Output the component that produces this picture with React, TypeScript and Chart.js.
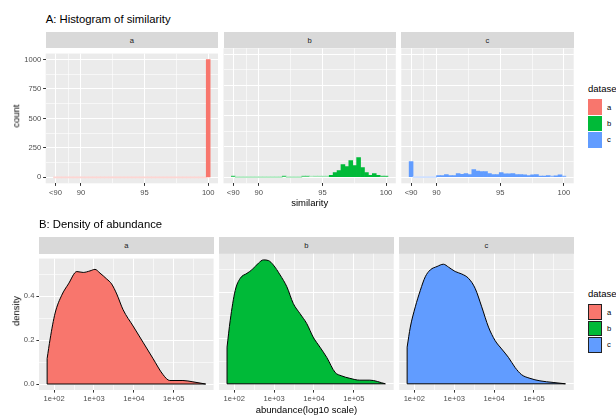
import React, { useEffect, useRef } from 'react';
import { Chart, registerables } from 'chart.js';

Chart.register(...registerables);

const FONT = '"Liberation Sans", Arial, Helvetica, sans-serif';

// ---------- data ----------
const datasetNames = ['a', 'b', 'c'];
const datasetColors = ['#F8766D', '#00BA38', '#619CFF'];

// histogram of similarity: 40 bins spanning 88 ("<90") .. 100
const BIN_MIN = 88;
const BIN_MAX = 100;
const BIN_COUNT = 40;
const histCountsA = [
  0, 0, 0, 0, 0, 0, 0, 0, 0, 0,
  0, 0, 0, 0, 0, 0, 0, 0, 0, 0,
  0, 0, 0, 0, 0, 0, 0, 0, 0, 0,
  0, 0, 0, 0, 0, 0, 0, 0, 0, 1000,
];
const histCountsB = [
  6, 0, 0, 0, 0, 0, 0, 0, 0, 0,
  0, 0, 0, 6, 0, 0, 0, 0, 5, 5,
  2, 3, 3, 3, 3, 14, 38, 54, 103, 87,
  136, 95, 160, 79, 38, 14, 30, 14, 6, 6,
];
const histCountsC = [
  126, 0, 0, 0, 0, 0, 0, 13, 13, 22,
  13, 13, 30, 24, 30, 22, 62, 50, 46, 46,
  30, 22, 22, 38, 27, 27, 30, 22, 22, 19,
  13, 19, 22, 8, 8, 13, 6, 11, 20, 6,
];
const histCounts = [histCountsA, histCountsB, histCountsC];

const histXBreaks = [88, 90, 95, 100];
const histXLabels = ['<90', '90', '95', '100'];
const histXMinor = [89, 92.5, 97.5];
const histYBreaks = [0, 250, 500, 750, 1000];
const histYLabels = ['0', '250', '500', '750', '1000'];
const histYMinor = [125, 375, 625, 875];

// density of abundance (x = log10 abundance)
const densAX = [1.825, 1.9, 2.025, 2.19, 2.36, 2.57, 2.73, 2.9, 3.025, 3.15, 3.32, 3.44, 3.57, 3.73, 3.98, 4.23, 4.48, 4.73, 4.9, 5.23, 5.48, 5.8];
const densAY = [0.116, 0.205, 0.323, 0.404, 0.456, 0.512, 0.508, 0.515, 0.522, 0.505, 0.478, 0.456, 0.41, 0.338, 0.264, 0.19, 0.116, 0.043, 0.016, 0.016, 0.01, 0.0];
const densBX = [1.82, 1.9, 2.025, 2.15, 2.32, 2.44, 2.61, 2.73, 2.86, 2.98, 3.15, 3.32, 3.48, 3.65, 3.82, 3.98, 4.15, 4.32, 4.53, 4.69, 4.9, 5.15, 5.4, 5.79];
const densBY = [0.161, 0.279, 0.41, 0.463, 0.485, 0.5, 0.53, 0.544, 0.541, 0.522, 0.478, 0.426, 0.353, 0.308, 0.264, 0.205, 0.161, 0.116, 0.05, 0.035, 0.024, 0.016, 0.016, 0.0];
const densCX = [1.82, 1.9, 2.025, 2.15, 2.275, 2.4, 2.57, 2.73, 2.86, 3.025, 3.19, 3.36, 3.525, 3.69, 3.86, 4.025, 4.19, 4.36, 4.525, 4.69, 4.9, 5.15, 5.48, 5.79];
const densCY = [0.161, 0.249, 0.338, 0.41, 0.47, 0.5, 0.515, 0.525, 0.512, 0.493, 0.482, 0.463, 0.419, 0.338, 0.249, 0.19, 0.153, 0.116, 0.072, 0.04, 0.024, 0.013, 0.006, 0.0];
const densX = [densAX, densBX, densCX];
const densY = [densAY, densBY, densCY];

const densXBreaks = [2, 3, 4, 5];
const densXLabels = ['1e+02', '1e+03', '1e+04', '1e+05'];
const densXMinor = [2.5, 3.5, 4.5, 5.5];
const densYBreaks = [0, 0.2, 0.4];
const densYLabels = ['0.0', '0.2', '0.4'];
const densYMinor = [0.1, 0.3, 0.5];

// ---------- layout ----------
const TOP_STRIP = 32;
const TOP_Y0 = 48.3;
const TOP_Y1 = 183.3;
const TOP_X = [[45.7, 218.0], [223.5, 395.8], [401.3, 573.7]];
const BOT_STRIP = 236.7;
const BOT_Y0 = 253.7;
const BOT_Y1 = 390;
const BOT_X = [[39, 213.6], [219.1, 393.7], [399.2, 573.8]];

const TICK_FONT = 7.6;
const TITLE_FONT = 9.5;

// ---------- derived ranges ----------
const binWidth = (BIN_MAX - BIN_MIN) / (BIN_COUNT - 1);
const binCenters = Array.from({ length: BIN_COUNT }, (_, k) => BIN_MIN + k * binWidth);
function expand(lo: number, hi: number) {
  const d = (hi - lo) * 0.05;
  return [lo - d, hi + d];
}
const histXRange = expand(BIN_MIN - binWidth / 2, BIN_MAX + binWidth / 2);
const histYRange = expand(0, Math.max(...histCounts.flat()));
const densXRange = expand(Math.min(...densX.flat()), Math.max(...densX.flat()));
const densYRange = expand(0, Math.max(...densY.flat()));

const panelBg = {
  id: 'panelBg',
  beforeDraw(chart: any) {
    const { ctx, chartArea: a } = chart;
    ctx.save();
    ctx.fillStyle = '#EBEBEB';
    ctx.fillRect(a.left, a.top, a.right - a.left, a.bottom - a.top);
    ctx.restore();
  },
};

function makeAxis(
  range: number[], breaks: number[], labels: string[], minor: number[],
  showLabels: boolean, size: number, horizontal: boolean,
) {
  const vals = [...breaks, ...minor].sort((p, q) => p - q);
  const isMinor = (v: number) => minor.some((m) => Math.abs(m - v) < 1e-9);
  const label = (v: number) => {
    const i = breaks.findIndex((b) => Math.abs(b - v) < 1e-9);
    return i >= 0 ? labels[i] : '';
  };
  return {
    type: 'linear',
    min: range[0],
    max: range[1],
    offset: false,
    afterBuildTicks: (s: any) => { s.ticks = vals.map((v) => ({ value: v })); },
    afterFit: (s: any) => { if (horizontal) s.height = size; else s.width = size; },
    border: { display: false },
    grid: {
      offset: false,
      color: (c: any) => (c.tick && isMinor(c.tick.value) ? 'rgba(255,255,255,0.6)' : '#FFFFFF'),
      lineWidth: 1,
      drawTicks: showLabels,
      tickLength: 2.6,
      tickWidth: 1,
      tickColor: (c: any) => (c.tick && isMinor(c.tick.value) ? 'rgba(0,0,0,0)' : '#333333'),
    },
    ticks: {
      display: showLabels,
      autoSkip: false,
      maxRotation: 0,
      minRotation: 0,
      padding: 2,
      color: '#4D4D4D',
      font: { family: FONT, size: TICK_FONT },
      callback: (v: number) => label(v),
    },
  };
}

// opaque mix of a colour with white (t = share of the colour)
function mixWhite(hex: string, t: number) {
  const ch = (i: number) => {
    const c = parseInt(hex.slice(i, i + 2), 16);
    return Math.round(255 + (c - 255) * t);
  };
  return `rgb(${ch(1)},${ch(3)},${ch(5)})`;
}

type PanelProps = {
  kind: 'hist' | 'dens';
  idx: number;
  left: number; right: number; top: number; bottom: number;
  showY: boolean;
};

function Panel({ kind, idx, left, right, top, bottom, showY }: PanelProps) {
  const ref = useRef<HTMLCanvasElement | null>(null);
  const cLeft = showY ? 0 : Math.floor(left) - 3;
  const cTop = Math.floor(top) - 1;
  const cRight = Math.ceil(right) + 1;
  const cBottom = Math.ceil(bottom) + 22;
  const W = cRight - cLeft;
  const H = cBottom - cTop;

  useEffect(() => {
    if (!ref.current) return;
    const color = datasetColors[idx];
    const padding = {
      left: showY ? 0 : left - cLeft,
      top: top - cTop,
      right: cRight - right,
      bottom: 0,
    };
    const xH = cBottom - bottom;
    const yW = showY ? left : 0;
    let config: any;
    if (kind === 'hist') {
      const counts = histCounts[idx];
      config = {
        type: 'bar',
        data: {
          datasets: [{
            label: datasetNames[idx],
            data: binCenters.map((x, i) => ({ x, y: counts[i] })),
            backgroundColor: (c: any) => {
              const y = c.raw ? c.raw.y : 0;
              return y >= 8 ? color : mixWhite(color, Math.max(0.3, y / 8));
            },
            borderWidth: 0,
            barPercentage: 1,
            categoryPercentage: 1,
            minBarLength: 1,
          }],
        },
        options: {
          animation: false,
          responsive: false,
          events: [],
          layout: { padding },
          plugins: { legend: { display: false }, tooltip: { enabled: false } },
          scales: {
            x: makeAxis(histXRange, histXBreaks, histXLabels, histXMinor, true, xH, true),
            y: makeAxis(histYRange, histYBreaks, histYLabels, histYMinor, showY, yW, false),
          },
        },
        plugins: [panelBg],
      };
    } else {
      const xs = densX[idx];
      const ys = densY[idx];
      config = {
        type: 'line',
        data: {
          datasets: [
            {
              label: datasetNames[idx],
              data: xs.map((x, i) => ({ x, y: ys[i] })),
              fill: 'origin',
              backgroundColor: color,
              borderColor: '#000000',
              borderWidth: 1,
              pointRadius: 0,
              cubicInterpolationMode: 'monotone',
              order: 1,
            },
            {
              label: datasetNames[idx] + ' edge',
              data: [
                { x: xs[xs.length - 1], y: 0 },
                { x: xs[0], y: 0 },
                { x: xs[0], y: ys[0] },
              ],
              fill: false,
              borderColor: '#000000',
              borderWidth: 1,
              pointRadius: 0,
              tension: 0,
              order: 0,
            },
          ],
        },
        options: {
          animation: false,
          responsive: false,
          events: [],
          layout: { padding },
          plugins: { legend: { display: false }, tooltip: { enabled: false } },
          scales: {
            x: makeAxis(densXRange, densXBreaks, densXLabels, densXMinor, true, xH, true),
            y: makeAxis(densYRange, densYBreaks, densYLabels, densYMinor, showY, yW, false),
          },
        },
        plugins: [panelBg],
      };
    }
    const chart = new Chart(ref.current, config);
    return () => chart.destroy();
  }, [kind, idx, left, right, top, bottom, showY]);

  return (
    <canvas
      ref={ref}
      width={W}
      height={H}
      style={{ position: 'absolute', left: cLeft, top: cTop, width: W, height: H }}
    />
  );
}

function Txt({ x, y, text, size, color = '#000', center = false, rotate = false }:
  { x: number; y: number; text: string; size: number; color?: string; center?: boolean; rotate?: boolean }) {
  const tx = center || rotate ? '-50%' : '0';
  return (
    <div
      style={{
        position: 'absolute', left: x, top: y, fontSize: size, color, lineHeight: 1,
        whiteSpace: 'nowrap', fontFamily: FONT, fontWeight: 400,
        transform: `translate(${tx},-50%)${rotate ? ' rotate(-90deg)' : ''}`,
      }}
    >
      {text}
    </div>
  );
}

function Strip({ left, right, top, bottom, text }: { left: number; right: number; top: number; bottom: number; text: string }) {
  return (
    <div
      style={{
        position: 'absolute', left, top, width: right - left, height: bottom - top,
        background: '#D9D9D9', display: 'flex', alignItems: 'center', justifyContent: 'center',
        fontSize: TICK_FONT, color: '#1A1A1A', fontFamily: FONT,
      }}
    >
      {text}
    </div>
  );
}

function Legend({ top, outline }: { top: number; outline: boolean }) {
  return (
    <>
      <Txt x={588} y={top} text="dataset" size={TITLE_FONT} />
      {datasetNames.map((n, i) => (
        <React.Fragment key={n}>
          <div
            style={{
              position: 'absolute', left: 588, top: top + 10 + i * 16.3, width: 14, height: 15.8,
              background: datasetColors[i], boxSizing: 'border-box',
              border: outline ? '1px solid #222' : 'none',
            }}
          />
          <Txt x={607} y={top + 10 + i * 16.3 + 8.3} text={n} size={TICK_FONT} />
        </React.Fragment>
      ))}
    </>
  );
}

export default function App() {
  return (
    <div
      style={{
        position: 'fixed', left: 0, top: 0, width: 616, height: 415, overflow: 'hidden',
        background: '#FFFFFF', fontFamily: FONT,
      }}
    >
      <Txt x={45.7} y={20} text="A: Histogram of similarity" size={11.3} />
      {TOP_X.map(([l, r], i) => (
        <React.Fragment key={'t' + i}>
          <Strip left={l} right={r} top={TOP_STRIP} bottom={TOP_Y0} text={datasetNames[i]} />
          <Panel kind="hist" idx={i} left={l} right={r} top={TOP_Y0} bottom={TOP_Y1} showY={i === 0} />
        </React.Fragment>
      ))}
      <Txt x={15.5} y={116} text="count" size={TITLE_FONT} rotate />
      <Txt x={309.7} y={203.3} text="similarity" size={TITLE_FONT} center />
      <Legend top={89.3} outline={false} />

      <Txt x={39} y={225} text="B: Density of abundance" size={11.3} />
      {BOT_X.map(([l, r], i) => (
        <React.Fragment key={'b' + i}>
          <Strip left={l} right={r} top={BOT_STRIP} bottom={BOT_Y0} text={datasetNames[i]} />
          <Panel kind="dens" idx={i} left={l} right={r} top={BOT_Y0} bottom={BOT_Y1} showY={i === 0} />
        </React.Fragment>
      ))}
      <Txt x={15.5} y={311} text="density" size={TITLE_FONT} rotate />
      <Txt x={306.4} y={410} text="abundance(log10 scale)" size={TITLE_FONT} center />
      <Legend top={294.3} outline />
    </div>
  );
}
